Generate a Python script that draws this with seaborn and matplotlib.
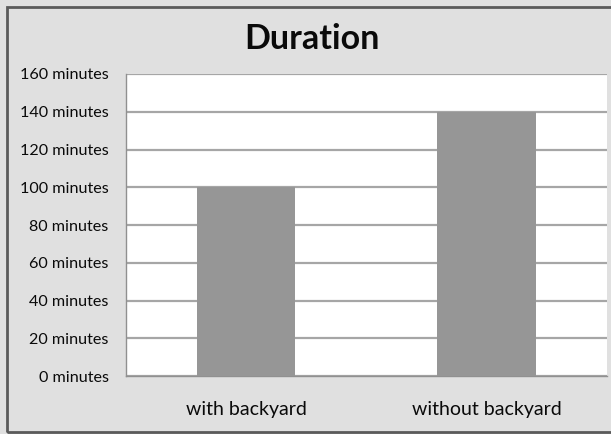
import matplotlib
matplotlib.use("Agg")
import matplotlib.pyplot as plt
from matplotlib.patches import Rectangle
import seaborn as sns
import pandas as pd

# Chart data
categories = ["with backyard", "without backyard"]
durations = [100, 140]
y_ticks = [0, 20, 40, 60, 80, 100, 120, 140, 160]
y_tick_labels = [f"{v} minutes" for v in y_ticks]

df = pd.DataFrame({"category": categories, "duration": durations})

sns.set_theme(style="white")
plt.rcParams["font.family"] = ["Lato", "DejaVu Sans"]

bg = "#e0e0e0"
fig = plt.figure(figsize=(6.11, 4.34), dpi=100, facecolor=bg)
ax = fig.add_axes([0.206, 0.1336, 0.787, 0.6959])
ax.set_facecolor("white")

sns.barplot(data=df, x="category", y="duration", color="#969696",
            width=0.41, saturation=1, edgecolor="none", ax=ax, zorder=3)

ax.set_xlim(-0.5, 1.5)
ax.set_ylim(0, 160)
ax.set_yticks(y_ticks)
ax.set_yticklabels(y_tick_labels, fontsize=11.6, color="#0a0a0a")
ax.yaxis.grid(True, color="#a6a6a6", linewidth=1.6, zorder=0)
ax.set_axisbelow(True)

# category labels without marks, boundary marks on the category axis
ax.tick_params(axis="x", which="major", length=0, pad=18, labelsize=14,
               labelcolor="#0a0a0a")
ax.set_xticks([-0.5, 0.5, 1.5], minor=True)
ax.tick_params(axis="x", which="minor", length=6, width=1, color="#909090",
               direction="out")
ax.tick_params(axis="y", which="major", length=6, width=1, color="#909090",
               direction="out", pad=6.5)
ax.set_xlabel("")
ax.set_ylabel("")

for side in ["top", "right"]:
    ax.spines[side].set_visible(False)
ax.spines["left"].set_color("#909090")
ax.spines["bottom"].set_color("#909090")
ax.spines["left"].set_linewidth(1)
ax.spines["bottom"].set_linewidth(1)

fig.text(0.511, 0.909, "Duration", ha="center", va="center",
         fontsize=24.5, fontweight="bold", color="#0a0a0a")

# chart frame
fig.patches.append(Rectangle((7.5 / 611, 2.5 / 434), 1.0, 425 / 434,
                             transform=fig.transFigure, fill=False,
                             edgecolor="#5a5a5a", linewidth=2, zorder=10))

fig.savefig("out.png", dpi=100, facecolor=bg)
